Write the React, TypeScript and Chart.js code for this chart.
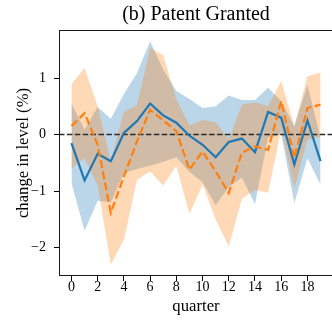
import React, { useEffect, useRef } from 'react';
import { Chart, registerables } from 'chart.js';

Chart.register(...registerables);

const quarters = [0, 1, 2, 3, 4, 5, 6, 7, 8, 9, 10, 11, 12, 13, 14, 15, 16, 17, 18, 19];
const xTicks = [0, 2, 4, 6, 8, 10, 12, 14, 16, 18];
const yTicks = [-2, -1, 0, 1];

const blueMean = [-0.15, -0.81, -0.34, -0.47, 0.03, 0.24, 0.55, 0.34, 0.21, -0.02, -0.18, -0.40, -0.13, -0.07, -0.31, 0.40, 0.30, -0.53, 0.25, -0.47];
const blueUpper = [0.55, 0.09, 0.49, 0.28, 0.72, 1.09, 1.65, 1.15, 0.77, 0.63, 0.47, 0.50, 0.69, 0.61, 0.61, 0.83, 0.59, 0.15, 0.88, -0.06];
const blueLower = [-0.85, -1.70, -1.17, -1.20, -0.68, -0.61, -0.55, -0.48, -0.40, -0.66, -0.84, -1.25, -0.93, -0.76, -1.23, -0.05, 0.0, -1.21, -0.42, -0.88];

const orangeMean = [0.15, 0.38, -0.18, -1.38, -0.74, -0.12, 0.44, 0.25, 0.06, -0.62, -0.30, -0.65, -1.03, -0.32, -0.21, -0.27, 0.59, -0.41, 0.47, 0.53];
const orangeUpper = [0.89, 1.18, 0.50, -0.46, 0.40, 0.52, 1.53, 1.41, 0.62, 0.16, 0.26, 0.22, -0.08, 0.53, 0.57, 0.50, 0.95, 0.15, 1.03, 1.10];
const orangeLower = [-0.60, -0.42, -0.90, -2.30, -1.86, -0.80, -0.65, -0.90, -0.55, -1.40, -0.88, -1.50, -1.98, -1.13, -0.98, -1.03, 0.10, -0.95, -0.09, -0.04];

const titleText = '(b) Patent Granted';
const xLabel = 'quarter';
const yLabel = 'change in level (%)';

const FONT = '"Liberation Serif", "DejaVu Serif", serif';

export default function App() {
  const ref = useRef<HTMLCanvasElement>(null);

  useEffect(() => {
    const canvas = ref.current;
    if (!canvas) return;
    const pts = (arr: number[]) => arr.map((v, i) => ({ x: quarters[i], y: v }));
    const transparent = 'rgba(0,0,0,0)';

    const framePlugin = {
      id: 'frameAndTitle',
      afterDatasetDraw(chart: any, args: any) {
        if (args.index !== 2) return;
        const { ctx, chartArea } = chart;
        const y0 = chart.scales.y.getPixelForValue(0);
        ctx.save();
        ctx.beginPath();
        ctx.rect(chartArea.left, chartArea.top, chartArea.right - chartArea.left, chartArea.bottom - chartArea.top);
        ctx.clip();
        ctx.strokeStyle = '#2a2a2a';
        ctx.lineWidth = 1.5;
        ctx.setLineDash([5.5, 2.4]);
        ctx.beginPath();
        ctx.moveTo(chartArea.left, y0);
        ctx.lineTo(chartArea.right, y0);
        ctx.stroke();
        ctx.restore();
      },
      afterDraw(chart: any) {
        const { ctx, chartArea } = chart;
        ctx.save();
        ctx.strokeStyle = '#1a1a1a';
        ctx.lineWidth = 1;
        ctx.strokeRect(chartArea.left + 0.5, chartArea.top + 0.5, chartArea.right - chartArea.left - 1, chartArea.bottom - chartArea.top - 1);
        ctx.fillStyle = '#000';
        ctx.font = `20px ${FONT}`;
        ctx.textAlign = 'center';
        ctx.textBaseline = 'middle';
        ctx.fillText(titleText, (chartArea.left + chartArea.right) / 2, 15);
        ctx.restore();
      },
    };

    const tickFont = { family: FONT, size: 14 };
    const labelFont = { family: FONT, size: 16.7 };
    const fmt = (v: any) => String(v).replace('-', '\u2212');

    const chart = new Chart(canvas, {
      type: 'line',
      data: {
        datasets: [
          { label: 'orange', data: pts(orangeMean), borderColor: '#ff7f0e', borderWidth: 2.2, borderDash: [8, 3.4], pointRadius: 0, fill: false, order: 1, tension: 0 },
          { label: 'blue', data: pts(blueMean), borderColor: '#1f77b4', borderWidth: 2.2, pointRadius: 0, fill: false, order: 2, tension: 0 },
          { label: 'orangeUpper', data: pts(orangeUpper), borderColor: transparent, borderWidth: 0, pointRadius: 0, backgroundColor: 'rgba(255,127,14,0.3)', fill: '+1', order: 3 },
          { label: 'orangeLower', data: pts(orangeLower), borderColor: transparent, borderWidth: 0, pointRadius: 0, fill: false, order: 3 },
          { label: 'blueUpper', data: pts(blueUpper), borderColor: transparent, borderWidth: 0, pointRadius: 0, backgroundColor: 'rgba(31,119,180,0.3)', fill: '+1', order: 4 },
          { label: 'blueLower', data: pts(blueLower), borderColor: transparent, borderWidth: 0, pointRadius: 0, fill: false, order: 4 },
        ],
      } as any,
      options: {
        animation: false,
        responsive: false,
        devicePixelRatio: 1,
        layout: { padding: { top: 30, right: 7, left: 0, bottom: 0 } },
        plugins: { legend: { display: false }, tooltip: { enabled: false }, title: { display: false } },
        scales: {
          x: {
            type: 'linear',
            min: -0.95,
            max: 19.95,
            afterBuildTicks: (s: any) => { s.ticks = xTicks.map((v) => ({ value: v })); },
            afterFit: (s: any) => { s.height = 49; },
            ticks: { font: tickFont, color: '#000', padding: -2, maxRotation: 0, autoSkip: false, callback: fmt },
            grid: { drawOnChartArea: false, drawTicks: true, tickLength: 5, color: '#000' },
            border: { display: false },
            title: { display: true, text: xLabel, font: labelFont, color: '#000', padding: { top: 0, bottom: 8 } },
          },
          y: {
            type: 'linear',
            min: -2.5,
            max: 1.85,
            afterBuildTicks: (s: any) => { s.ticks = yTicks.map((v) => ({ value: v })); },
            afterFit: (s: any) => { s.width = 59; },
            ticks: { font: tickFont, color: '#000', padding: 8, callback: fmt },
            grid: { drawOnChartArea: false, drawTicks: true, tickLength: 5, color: '#000' },
            border: { display: false },
            title: { display: true, text: yLabel, font: labelFont, color: '#000', padding: { top: 14, bottom: 0 } },
          },
        },
      } as any,
      plugins: [framePlugin],
    });
    return () => chart.destroy();
  }, []);

  return (
    <div style={{ position: 'fixed', left: 0, top: 0, width: 332, height: 325, overflow: 'hidden', background: '#fff' }}>
      <canvas ref={ref} width={340} height={325} style={{ display: 'block', width: 340, height: 325 }} />
    </div>
  );
}
